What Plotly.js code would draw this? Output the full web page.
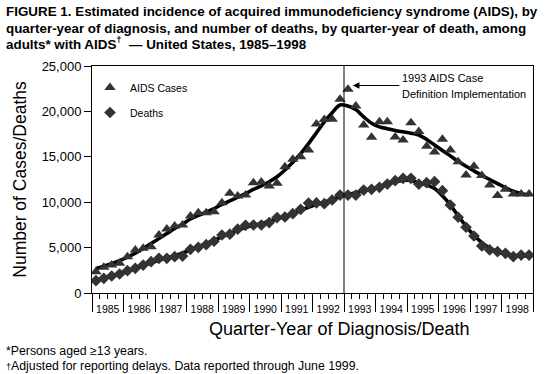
<!DOCTYPE html>
<html>
<head>
<meta charset="utf-8">
<script src="https://cdn.plot.ly/plotly-3.0.1.min.js"></script>
<style>html,body{margin:0;padding:0;background:#fff;}#chart{width:552px;height:374px;}</style>
</head>
<body>
<div id="chart"></div>
<script>
// ---- data (quarter-years 1985 Q1 .. 1998 Q4) ----
const years = ['1985','1986','1987','1988','1989','1990','1991','1992','1993','1994','1995','1996','1997','1998'];
const quarters = [1, 2, 3, 4];

const aidsCases = [
  2350, 2830, 3080, 3270,
  4000, 4740, 4920, 5100,
  6390, 7050, 7380, 7490,
  8480, 8840, 8840, 8950,
  9950, 10980, 10680, 10790,
  12150, 12220, 11780, 12080,
  13910, 14720, 15010, 15750,
  18600, 19100, 19130, 21330,
  22430, 20600, 18500, 17150,
  18870, 18870, 17180, 16850,
  18760, 17800, 16150, 15520,
  16930, 15750, 14460, 13000,
  13950, 12950, 11890, 10730,
  11420, 10900, 10900, 10900
];
const deaths = [
  1360, 1620, 1870, 2090,
  2460, 2720, 3080, 3450,
  3820, 3820, 4000, 4070,
  4810, 5030, 5320, 5700,
  6390, 6480, 7030, 7450,
  7490, 7490, 7760, 8310,
  8370, 8740, 9220, 9900,
  9920, 9840, 10240, 10790,
  10790, 10790, 11340, 11420,
  11640, 12000, 12370, 12630,
  12630, 12000, 12150, 12260,
  11270, 9690, 8340, 7240,
  6280, 5180, 4740, 4550,
  4370, 4000, 4180, 4180
];
const casesTrend = [
  2700, 2950, 3250, 3550,
  3950, 4400, 4900, 5450,
  6000, 6550, 7100, 7600,
  8150, 8550, 8900, 9300,
  9750, 10150, 10550, 10950,
  11400, 11800, 12250, 12800,
  13550, 14400, 15350, 16450,
  17650, 18850, 19850, 20700,
  20600, 20200, 19400, 18700,
  18300, 18100, 17900, 17750,
  17600, 17400, 16900, 16300,
  15700, 15100, 14500, 13950,
  13450, 12950, 12500, 12050,
  11600, 11200, 10950, 10800
];
const deathsTrend = [
  1400, 1650, 1900, 2150,
  2400, 2700, 3000, 3300,
  3600, 3850, 4100, 4400,
  4750, 5100, 5450, 5800,
  6200, 6550, 6900, 7200,
  7450, 7650, 7900, 8150,
  8450, 8750, 9100, 9450,
  9750, 10000, 10300, 10600,
  10850, 11050, 11250, 11450,
  11700, 12000, 12250, 12400,
  12400, 12150, 11900, 11500,
  10700, 9700, 8500, 7350,
  6350, 5550, 4950, 4550,
  4300, 4150, 4100, 4050
];
const titleLines = [
  'FIGURE 1. Estimated incidence of acquired immunodeficiency syndrome (AIDS), by',
  'quarter-year of diagnosis, and number of deaths, by quarter-year of death, among',
  'adults* with AIDS<sup>†</sup>  — United States, 1985–1998'
];
const footnotes = [
  '*Persons aged ≥13 years.',
  '<span style="font-size:9px">†</span>Adjusted for reporting delays. Data reported through June 1999.'
];

// quarter positions on a decimal-year axis (centre of each quarter)
const xq = years.flatMap(y => quarters.map(q => Number(y) + (q - 0.5) / 4));
const yearCenters = years.map(y => Number(y) + 0.5);
const firstYear = Number(years[0]);
const lastYear = Number(years[years.length - 1]) + 1;

const FONT = 'Liberation Sans, Arial, Helvetica, sans-serif';
const MARK = '#333333';
const PH = 227, PW = 441, PL = 92, PB = 293; // plot box in px, used for paper coords
const px2py = y => (PB - y) / PH;
const px2px = x => (x - PL) / PW;

const traces = [
  {x: xq, y: casesTrend, mode: 'lines', line: {color: '#000', width: 3.6, shape: 'spline', smoothing: 1},
   showlegend: false, hoverinfo: 'skip'},
  {x: xq, y: deathsTrend, mode: 'lines', line: {color: '#000', width: 3.6, shape: 'spline', smoothing: 1},
   showlegend: false, hoverinfo: 'skip'},
  {x: xq, y: aidsCases, mode: 'markers', name: 'AIDS Cases', legendgroup: 'c',
   marker: {symbol: 'triangle-up', size: 10, color: MARK, line: {width: 0}}},
  {x: xq, y: deaths, mode: 'markers', name: 'Deaths', legendgroup: 'd',
   marker: {symbol: 'diamond', size: 9, color: MARK, line: {width: 0}}},
  {x: yearCenters, y: yearCenters.map(() => null), xaxis: 'x2', yaxis: 'y', mode: 'markers',
   showlegend: false, hoverinfo: 'skip'}
];

const annotations = [
  {xref: 'x', yref: 'y', x: 1993.28, y: 22850, ax: 48, ay: 0, axref: 'pixel', ayref: 'pixel',
   text: '', showarrow: true, arrowhead: 2, arrowsize: 1.1, arrowwidth: 1.2, arrowcolor: '#000', standoff: 0},
  {xref: 'paper', yref: 'paper', x: px2px(400), y: px2py(78), xanchor: 'left', yanchor: 'middle',
   text: '1993 AIDS Case', showarrow: false, font: {size: 11, family: FONT, color: '#000'}},
  {xref: 'paper', yref: 'paper', x: px2px(400), y: px2py(94), xanchor: 'left', yanchor: 'middle',
   text: 'Definition Implementation', showarrow: false, font: {size: 11, family: FONT, color: '#000'}},
  {xref: 'paper', yref: 'paper', x: px2px(339), y: px2py(329), xanchor: 'center', yanchor: 'middle',
   text: 'Quarter-Year of Diagnosis/Death', showarrow: false, font: {size: 18, family: FONT, color: '#000'}}
];
const titleY = [12, 28, 44];
titleLines.forEach((t, i) => annotations.push({
  xref: 'paper', yref: 'paper', x: px2px(4), y: px2py(titleY[i]), xanchor: 'left', yanchor: 'middle',
  text: '<b>' + t + '</b>', showarrow: false, font: {size: 13.4, family: FONT, color: '#000'}
}));
const footY = [351, 366];
footnotes.forEach((t, i) => annotations.push({
  xref: 'paper', yref: 'paper', x: px2px(4), y: px2py(footY[i]), xanchor: 'left', yanchor: 'middle',
  text: t, showarrow: false, font: {size: 12.3, family: FONT, color: '#000'}
}));

const layout = {
  width: 552, height: 374,
  margin: {l: 92, r: 19, t: 66, b: 81},
  paper_bgcolor: '#fff', plot_bgcolor: '#fff',
  font: {family: FONT, color: '#000'},
  xaxis: {
    range: [firstYear, lastYear],
    tickmode: 'linear', tick0: firstYear, dtick: 1,
    ticks: 'outside', ticklen: 18, tickwidth: 1, tickcolor: '#000',
    showticklabels: false,
    showline: true, linecolor: '#000', linewidth: 1, mirror: true,
    showgrid: false, zeroline: false,
    minor: {tickmode: 'linear', tick0: firstYear, dtick: 0.25, ticks: 'outside', ticklen: 5, tickwidth: 1, tickcolor: '#000', showgrid: false}
  },
  xaxis2: {
    overlaying: 'x', anchor: 'y', side: 'bottom',
    range: [firstYear, lastYear],
    tickmode: 'array', tickvals: yearCenters, ticktext: years,
    ticks: 'outside', ticklen: 6, tickcolor: 'rgba(0,0,0,0)',
    tickfont: {size: 10.5, family: FONT, color: '#000'},
    showline: false, showgrid: false, zeroline: false
  },
  yaxis: {
    range: [0, 25000], tickmode: 'linear', tick0: 0, dtick: 5000, tickformat: ',d',
    ticks: 'outside', ticklen: 7, tickwidth: 1, tickcolor: '#000',
    tickfont: {size: 13, family: FONT, color: '#000'},
    showline: true, linecolor: '#000', linewidth: 1, mirror: true,
    showgrid: false, zeroline: false,
    title: {text: 'Number of Cases/Deaths', font: {size: 17.5, family: FONT, color: '#000'}, standoff: 10}
  },
  legend: {
    x: -2 / PW, xanchor: 'left', y: px2py(73), yanchor: 'top',
    bgcolor: 'rgba(0,0,0,0)', font: {size: 10.5, family: FONT, color: '#000'},
    tracegroupgap: 6, itemsizing: 'trace'
  },
  shapes: [
    {type: 'line', xref: 'x', yref: 'paper', x0: 1993, x1: 1993, y0: 0, y1: 1, line: {color: '#000', width: 1}}
  ],
  annotations: annotations
};

Plotly.newPlot('chart', traces, layout, {displayModeBar: false, staticPlot: true});
</script>
</body>
</html>
